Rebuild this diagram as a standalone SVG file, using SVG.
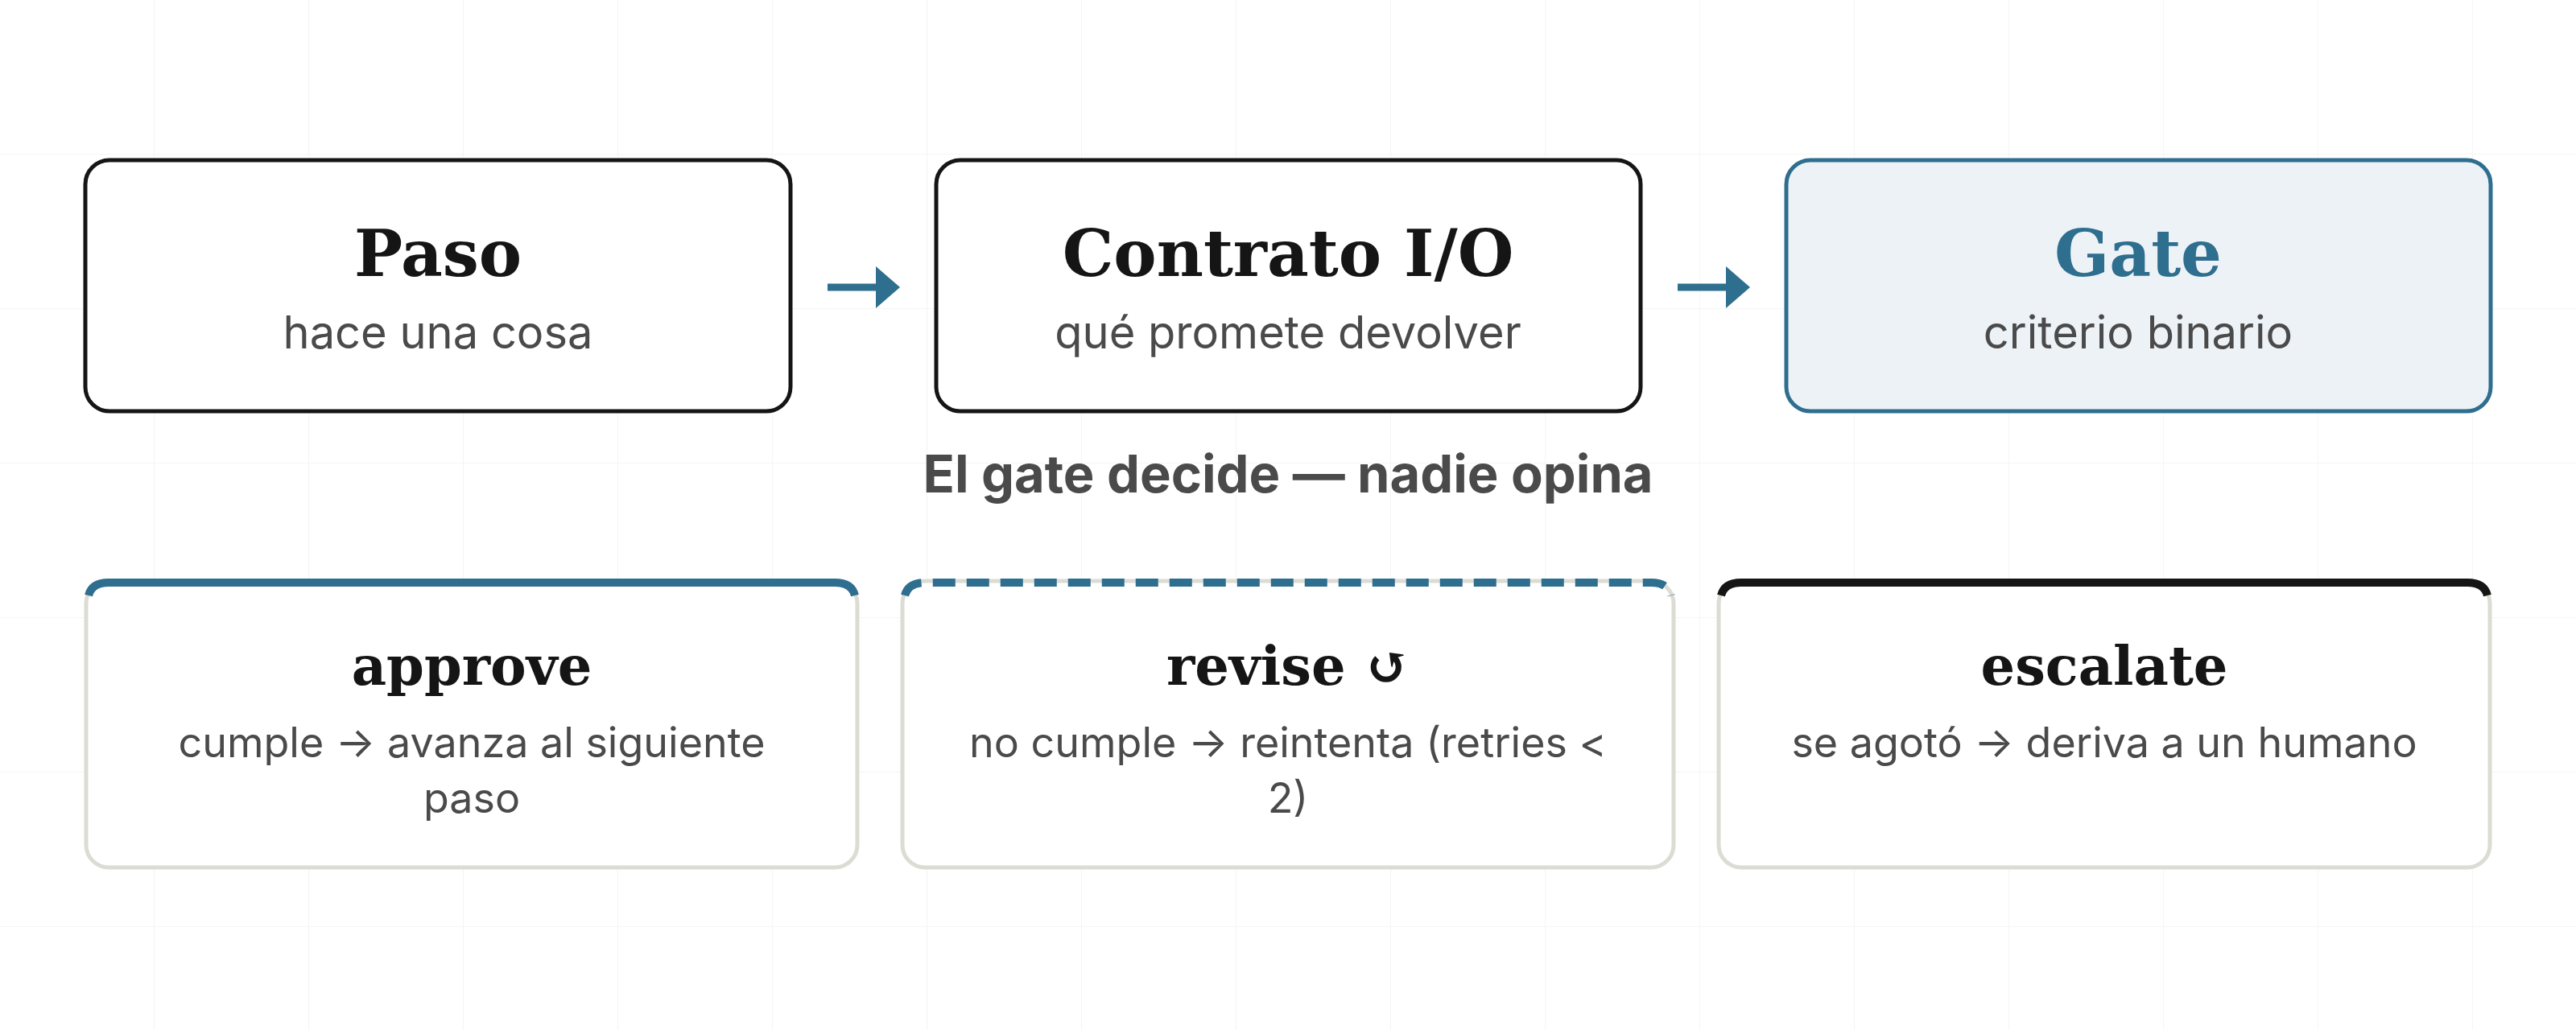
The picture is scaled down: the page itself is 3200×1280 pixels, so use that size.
<svg xmlns="http://www.w3.org/2000/svg" width="3200" height="1280" viewBox="0 0 3200 1280">
<defs>
<pattern id="grid" width="192" height="192" patternUnits="userSpaceOnUse">
<path d="M192 0V192M0 192H192" fill="none" stroke="#f5f5f3" stroke-width="2"/>
</pattern>
</defs>
<style>
.box{fill:#fff;stroke:#151515;stroke-width:5}
.gate{fill:#edf2f6;stroke:#2e6e8e;stroke-width:5}
.card{fill:#fff;stroke:#dcdcd4;stroke-width:5}
.t{font-family:"DejaVu Serif","Liberation Serif",serif;font-weight:bold;font-size:80px;fill:#151515;text-anchor:middle}
.ct{font-family:"DejaVu Serif","Liberation Serif",serif;font-weight:bold;font-size:67px;fill:#151515;text-anchor:middle}
.s{font-family:Inter,"Liberation Sans",sans-serif;font-size:56px;fill:#4a4a4a;text-anchor:middle}
.d{font-family:Inter,"Liberation Sans",sans-serif;font-size:52px;fill:#4a4a4a;text-anchor:middle}
.arr{fill:none;stroke:#2e6e8e;stroke-width:9}
.ah{fill:#2e6e8e}
</style>
<rect width="3200" height="1280" fill="#fff"/>
<rect width="3200" height="1280" fill="url(#grid)"/>
<g id="connectors">
<path class="arr" d="M1028 357H1090"/><path class="ah" d="M1088 331L1118 357L1088 383Z"/>
<path class="arr" d="M2084 357H2146"/><path class="ah" d="M2144 331L2174 357L2144 383Z"/>
</g>
<g id="paso"><rect class="box" x="106" y="199" width="876" height="312" rx="30"/>
<text class="t" x="544" y="343">Paso</text><text class="s" x="544" y="433">hace una cosa</text></g>
<g id="contrato"><rect class="box" x="1163" y="199" width="875" height="312" rx="30"/>
<text class="t" x="1600" y="343">Contrato I/O</text><text class="s" x="1600" y="433">qué promete devolver</text></g>
<g id="gate"><rect class="gate" x="2219" y="199" width="875" height="312" rx="30"/>
<text class="t" x="2656" y="343" style="fill:#2e6e8e">Gate</text><text class="s" x="2656" y="433">criterio binario</text></g>
<text x="1600" y="612" font-family="Inter,'Liberation Sans',sans-serif" font-weight="bold" font-size="65" fill="#4a4a4a" text-anchor="middle">El gate decide — nadie opina</text>
<g id="approve"><rect class="card" x="107" y="722" width="958" height="356" rx="28"/>
<path d="M110 740Q114 724 135 724H1037Q1058 724 1062 740" fill="none" stroke="#2e6e8e" stroke-width="10"/>
<text class="ct" x="586" y="851">approve</text>
<text class="d" x="586" y="941">cumple → avanza al siguiente</text><text class="d" x="586" y="1010">paso</text></g>
<g id="revise"><rect class="card" x="1121" y="722" width="958" height="356" rx="28"/>
<path d="M1124 740Q1128 724 1149 724H2051Q2072 724 2076 740" fill="none" stroke="#2e6e8e" stroke-width="10" stroke-dasharray="28 14"/>
<text class="ct" x="1600" y="851">revise ↺</text>
<text class="d" x="1600" y="941">no cumple → reintenta (retries &lt;</text><text class="d" x="1600" y="1010">2)</text></g>
<g id="escalate"><rect class="card" x="2135" y="722" width="958" height="356" rx="28"/>
<path d="M2138 740Q2142 724 2163 724H3065Q3086 724 3090 740" fill="none" stroke="#151515" stroke-width="10"/>
<text class="ct" x="2614" y="851">escalate</text>
<text class="d" x="2614" y="941">se agotó → deriva a un humano</text></g>
</svg>
